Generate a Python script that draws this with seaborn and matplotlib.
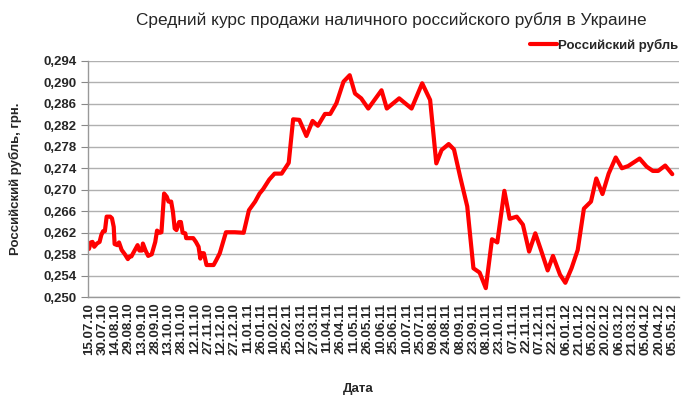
import numpy as np
import pandas as pd
import matplotlib
matplotlib.use("Agg")
import matplotlib.pyplot as plt
import matplotlib.dates as mdates
from matplotlib.ticker import FuncFormatter
from matplotlib.lines import Line2D
import seaborn as sns

start_date = "2010-07-15"
day_offsets = [0, 2, 4, 6, 9, 12, 14, 16, 18, 20, 24, 26, 28, 29, 32, 34, 37, 41, 44, 46,
               48, 51, 55, 57, 60, 61, 64, 67, 71, 75, 77, 80, 82, 85, 88, 90, 93, 95, 97, 99,
               102, 104, 106, 109, 110, 118, 121, 124, 126, 127, 130, 133, 141, 144, 148, 155,
               165, 175, 181, 188, 193, 197, 204, 210, 218, 226, 231, 238, 246, 253, 259, 267,
               273, 280, 288, 295, 301, 308, 316, 331, 337, 351, 365, 377, 386, 393, 399, 407,
               413, 420, 428, 435, 442, 449, 456, 462, 470, 476, 484, 491, 498, 505, 512, 519,
               525, 533, 539, 546, 553, 560, 568, 574, 581, 588, 596, 603, 610, 623, 631, 638,
               644, 652, 660]
rate = [0.2590, 0.2602, 0.2603, 0.2594, 0.2600, 0.2603, 0.2616, 0.2623, 0.2623, 0.2650,
        0.2650, 0.2647, 0.2631, 0.2599, 0.2597, 0.2602, 0.2588, 0.2579, 0.2571, 0.2576,
        0.2576, 0.2585, 0.2597, 0.2587, 0.2587, 0.2600, 0.2587, 0.2577, 0.2580, 0.2603,
        0.2624, 0.2620, 0.2621, 0.2693, 0.2687, 0.2678, 0.2678, 0.2659, 0.2628, 0.2625,
        0.2640, 0.2640, 0.2620, 0.2619, 0.2610, 0.2610, 0.2603, 0.2594, 0.2572, 0.2582,
        0.2582, 0.2560, 0.2560, 0.2569, 0.2582, 0.2621, 0.2621, 0.2620, 0.2662, 0.2678,
        0.2693, 0.2701, 0.2719, 0.2730, 0.2730, 0.2750, 0.2831, 0.2830, 0.2800, 0.2828,
        0.2819, 0.2841, 0.2841, 0.2861, 0.2901, 0.2913, 0.2879, 0.2870, 0.2851, 0.2885,
        0.2851, 0.2870, 0.2851, 0.2898, 0.2867, 0.2749, 0.2774, 0.2785, 0.2775, 0.2724,
        0.2669, 0.2554, 0.2546, 0.2517, 0.2608, 0.2602, 0.2698, 0.2646, 0.2650, 0.2635,
        0.2585, 0.2619, 0.2585, 0.2550, 0.2577, 0.2542, 0.2527, 0.2554, 0.2588, 0.2665,
        0.2678, 0.2721, 0.2692, 0.2730, 0.2760, 0.2740, 0.2744, 0.2758, 0.2743, 0.2735,
        0.2735, 0.2745, 0.2729]
y_ticks = [0.250, 0.254, 0.258, 0.262, 0.266, 0.270, 0.274, 0.278, 0.282, 0.286, 0.290, 0.294]
tick_step_days = 15
n_x_ticks = 45

title = "Средний курс продажи наличного российского рубля в Украине"
series_name = "Российский рубль"
y_label = "Российский рубль, грн."
x_label = "Дата"

sns.set_style("white")
plt.rcParams["font.family"] = ["Liberation Sans", "DejaVu Sans"]

dates = pd.Timestamp(start_date) + pd.to_timedelta(day_offsets, unit="D")
df = pd.DataFrame({"Дата": dates, "Курс": rate, "series": series_name})

fig = plt.figure(figsize=(6.98, 3.96), dpi=100)
ax = fig.add_axes([88 / 698, 1 - 297.3 / 396, (679 - 88) / 698, (297.3 - 60.7) / 396])

sns.lineplot(data=df, x="Дата", y="Курс", hue="series", palette=["#FF0000"],
             linewidth=3.0, ax=ax, legend=False)

t0 = pd.Timestamp(start_date)
xticks = [t0 + pd.Timedelta(days=tick_step_days * i) for i in range(n_x_ticks)]
ax.set_xticks(xticks)
ax.xaxis.set_major_formatter(mdates.DateFormatter("%d.%m.%y"))
ax.set_xlim(t0 - pd.Timedelta(days=1.1), t0 + pd.Timedelta(days=667.6))
ax.set_ylim(0.250, 0.294)
ax.set_yticks(y_ticks)
ax.yaxis.set_major_formatter(FuncFormatter(lambda v, p: f"{v:.3f}".replace(".", ",")))

for lab in ax.get_xticklabels():
    lab.set_rotation(90)
    lab.set_fontweight("bold")
    lab.set_fontsize(9.5)
for lab in ax.get_yticklabels():
    lab.set_fontweight("bold")
    lab.set_fontsize(9.5)

ax.tick_params(axis="x", length=0, pad=4)
ax.tick_params(axis="y", length=5, width=0.8, color="#888888", pad=3, left=True)
ax.yaxis.grid(True, color="#B0B0B0", linewidth=1.0)
ax.xaxis.grid(False)
ax.set_axisbelow(True)
for s in ["top", "right"]:
    ax.spines[s].set_visible(False)
for s in ["left", "bottom"]:
    ax.spines[s].set_color("#999999")
    ax.spines[s].set_linewidth(1.0)

ax.set_xlabel(x_label, fontsize=9.5, fontweight="bold", labelpad=0)
ax.xaxis.set_label_coords((358 - 88) / (679 - 88), -(383 - 297.3) / (297.3 - 60.7))
ax.set_ylabel(y_label, fontsize=9.5, fontweight="bold")
ax.yaxis.set_label_coords(-(88 - 22) / (679 - 88), 0.5)

fig.text(391 / 698, 1 - 20 / 396, title, ha="center", va="center", fontsize=12.4)

handle = Line2D([], [], color="#FF0000", linewidth=3.0)
fig.legend([handle], [series_name], loc="center right",
           bbox_to_anchor=(678 / 698, 1 - 45 / 396), frameon=False,
           prop={"weight": "bold", "size": 9.5}, handlelength=2.0, handletextpad=0.1,
           borderaxespad=0, borderpad=0)

fig.savefig("out.png", dpi=100)
